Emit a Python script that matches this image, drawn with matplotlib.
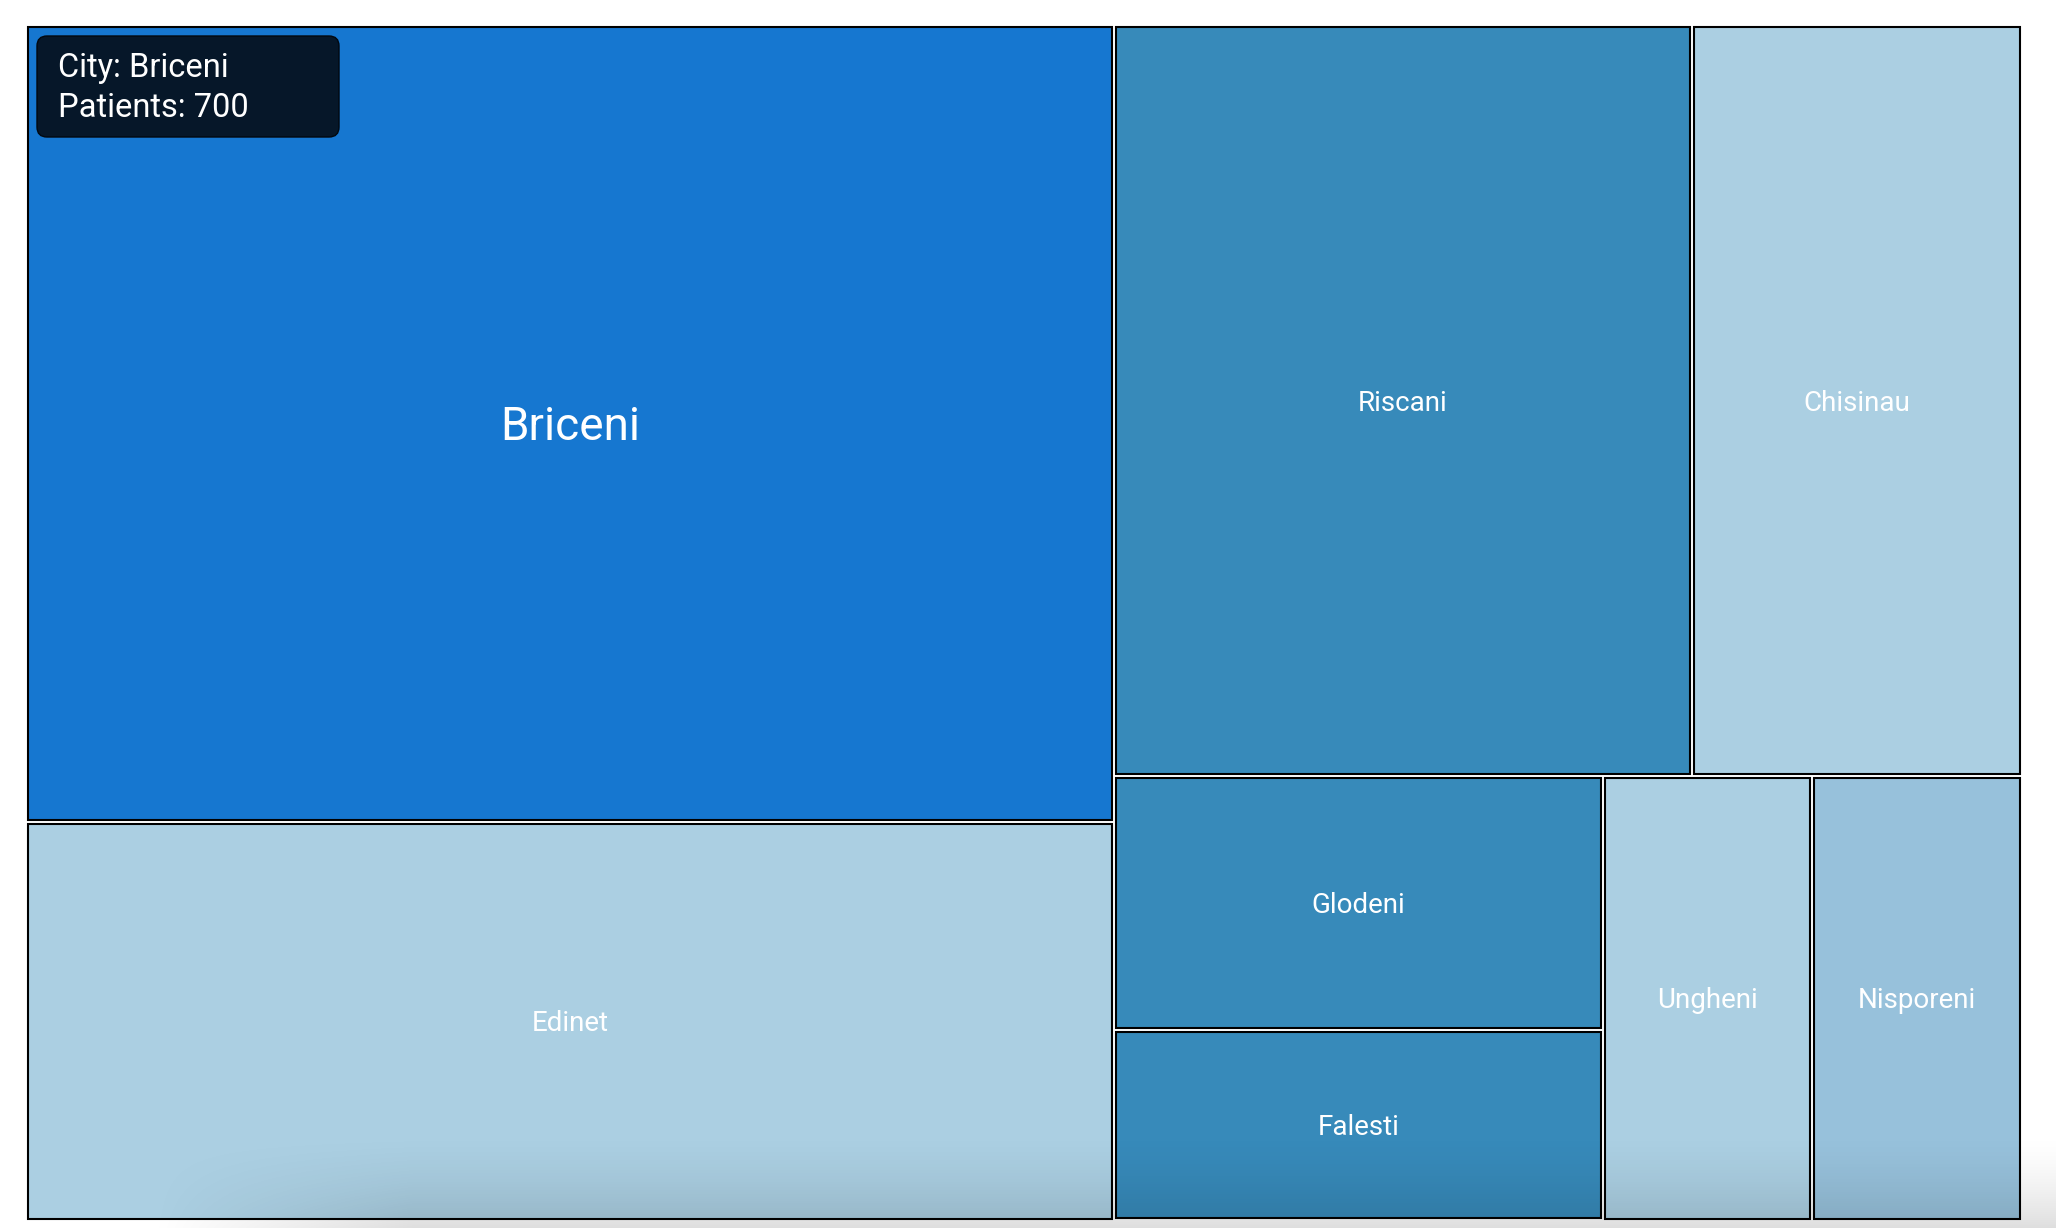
#! /usr/bin/env python3

"""
Draw a squarified treemap of patients per city, with the hover tooltip
shown over the highlighted city.
"""

import numpy as np
import matplotlib.pyplot as plt
from matplotlib.patches import Rectangle, FancyBboxPatch

cities = ["Briceni", "Edinet", "Riscani", "Chisinau",
          "Glodeni", "Falesti", "Ungheni", "Nisporeni"]
patients = [700, 350, 350, 200, 100, 75, 75, 75]
highlighted_city = "Briceni"

tile_colors = ["#1677d0", "#abcfe2", "#378aba", "#abcfe2",
               "#378aba", "#378aba", "#abcfe2", "#97c1db"]

PHI = (1 + 5 ** 0.5) / 2
FONT = "Roboto"
CAP_HALF = 0.355  # half of Roboto cap height, in em


def dice(values, total, x0, y0, x1, y1):
    """Lay out values left to right inside a strip."""
    rects = []
    k = (x1 - x0) / total
    for v in values:
        rects.append((x0, y0, x0 + v * k, y1))
        x0 += v * k
    return rects


def slice_rows(values, total, x0, y0, x1, y1):
    """Lay out values top to bottom inside a strip."""
    rects = []
    k = (y1 - y0) / total
    for v in values:
        rects.append((x0, y0, x1, y0 + v * k))
        y0 += v * k
    return rects


def squarify(values, x0, y0, x1, y1, ratio=PHI):
    """
    Same row logic as d3.treemapSquarify. Values must be sorted descending.
    Returns a list of (x0, y0, x1, y1) with y going downwards.
    """
    rects = []
    value = sum(values)
    i0 = i1 = 0
    n = len(values)
    while i0 < n:
        dx, dy = x1 - x0, y1 - y0
        sum_value = values[i1]
        i1 += 1
        min_value = max_value = sum_value
        alpha = max(dy / dx, dx / dy) / (value * ratio)
        beta = sum_value * sum_value * alpha
        min_ratio = max(max_value / beta, beta / min_value)
        while i1 < n:
            v = values[i1]
            sum_value += v
            min_value = min(min_value, v)
            max_value = max(max_value, v)
            beta = sum_value * sum_value * alpha
            new_ratio = max(max_value / beta, beta / min_value)
            if new_ratio > min_ratio:
                sum_value -= v
                break
            min_ratio = new_ratio
            i1 += 1
        row = values[i0:i1]
        if dx < dy:
            y_split = y0 + dy * sum_value / value
            rects += dice(row, sum_value, x0, y0, x1, y_split)
            y0 = y_split
        else:
            x_split = x0 + dx * sum_value / value
            rects += slice_rows(row, sum_value, x0, y0, x_split, y1)
            x0 = x_split
        value -= sum_value
        i0 = i1
    return rects


def main():
    width, height = 2056, 1228
    fig = plt.figure(figsize=(width / 100, height / 100), dpi=100)
    ax = fig.add_axes([0, 0, 1, 1])
    ax.set_xlim(0, width)
    ax.set_ylim(height, 0)
    ax.axis("off")

    # chart area and inner padding (px)
    left, top, right, bottom = 27.5, 27, 2019.5, 1218.5
    pad = 2

    rects = squarify(patients, left - pad, top - pad, right + pad, bottom + pad)

    for city, count, color, (x0, y0, x1, y1) in zip(cities, patients, tile_colors, rects):
        x0, y0, x1, y1 = x0 + pad, y0 + pad, x1 - pad, y1 - pad
        ax.add_patch(Rectangle((x0, y0), x1 - x0, y1 - y0, facecolor=color,
                               edgecolor="black", linewidth=1.5, zorder=1))
        size = 33 if city == highlighted_city else 20
        size_px = size / 0.72
        ax.text((x0 + x1) / 2, (y0 + y1) / 2 + CAP_HALF * size_px, city,
                color="white", fontsize=size, family=FONT,
                ha="center", va="baseline", zorder=4)

    # soft drop shadow along the bottom edge of the screenshot
    ys = np.linspace(0, 1, 120)[:, None]
    xs = np.linspace(0, width, 600)[None, :]
    fade_x = np.clip((xs - 150) / 260, 0, 1)
    alpha = 0.13 * ys ** 1.6 * fade_x
    shadow = np.zeros((120, 600, 4))
    shadow[..., 3] = alpha
    ax.imshow(shadow, extent=(0, width, height, 1130), origin="upper",
              aspect="auto", zorder=3, interpolation="bilinear")
    ax.set_xlim(0, width)
    ax.set_ylim(height, 0)

    # tooltip for the hovered city
    idx = cities.index(highlighted_city)
    tx, ty = rects[idx][0] + pad + 9.5, rects[idx][1] + pad + 9
    ax.add_patch(FancyBboxPatch((tx, ty), 302, 101,
                                boxstyle="round,pad=0,rounding_size=10",
                                facecolor="#061729", edgecolor="#02080f",
                                linewidth=1, zorder=5))
    ax.text(tx + 21.5, ty + 41, f"City: {highlighted_city}", color="white",
            fontsize=23.5, family=FONT, va="baseline", zorder=6)
    ax.text(tx + 21.5, ty + 81, f"Patients: {patients[idx]}", color="white",
            fontsize=23.5, family=FONT, va="baseline", zorder=6)

    fig.savefig("out.png", dpi=100, facecolor="white")
    plt.close(fig)


if __name__ == "__main__":
    main()
